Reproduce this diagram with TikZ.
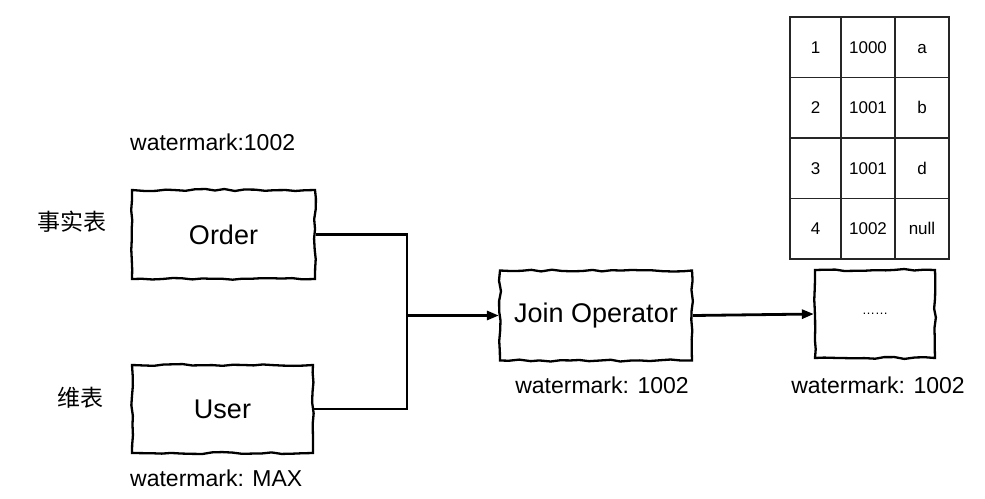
\documentclass[tikz,border=0pt]{standalone}
\usepackage{fontspec}
\setmainfont{Liberation Sans}
\newfontfamily\cjk{Noto Sans CJK SC}
\usetikzlibrary{decorations.pathmorphing,arrows.meta}
\begin{document}
\begin{tikzpicture}[x=1pt,y=-1pt,
  sketch/.style={draw, line width=2.3pt, fill=white, decorate,
    decoration={random steps, segment length=10pt, amplitude=1pt},
    font=\fontsize{27}{27}\selectfont, inner sep=0pt},
  lbl/.style={font=\fontsize{23}{23}\selectfont, inner sep=0pt},
  cjklbl/.style={font=\cjk\fontsize{23}{23}\selectfont, inner sep=0pt},
  cell/.style={draw=black!85, line width=1.1pt, minimum height=60.5pt, inner sep=0pt,
    text height=12pt, text depth=0pt, font=\fontsize{17}{17}\selectfont},
  conn/.style={line width=2.8pt},
  arr/.style={conn, -{Triangle[length=12pt,width=9pt]}}]
\useasboundingbox (0,0) rectangle (985,498);
\pgfmathsetseed{7}
% boxes
\node[sketch, minimum width=183pt, minimum height=89pt] (order) at (223.5,234.5) {Order};
\node[sketch, minimum width=181pt, minimum height=88pt] (user) at (222.5,409) {User};
\node[sketch, minimum width=192pt, minimum height=90pt] (join) at (596,315.5) {Join Operator};
\node[sketch, minimum width=120pt, minimum height=88pt] (dots) at (875,314) {\fontsize{13}{13}\selectfont ……};
% table
\foreach \r/\a/\b [count=\i] in {1/1000/a, 2/1001/b, 3/1001/d, 4/1002/null}{
  \pgfmathsetmacro{\yy}{17+60.5*(\i-0.5)}
  \node[cell, minimum width=51pt] (t\i a) at (815.5,\yy) {\r};
  \node[cell, minimum width=54pt] (t\i b) at (868,\yy) {\a};
  \node[cell, minimum width=54pt] (t\i c) at (922,\yy) {\b};
}
% labels
\node[lbl, anchor=west] (wm1) at (130,142) {watermark:1002};
\node[cjklbl] (fact) at (72,222) {事实表};
\node[cjklbl] (dim) at (80,398) {维表};
\node[lbl] (wm2) at (602,385) {watermark: 1002};
\node[lbl] (wm3) at (878,385) {watermark: 1002};
\node[lbl, anchor=west] (wm4) at (130,478) {watermark: MAX};
% connectors
\coordinate (m) at (407,315.5);
\draw[conn] (order.east) -| (m);
\draw[conn] (user.east) -| (m);
\draw[arr] (m) -- (join.west);
\draw[arr] (join.east) -- (dots.west);
\end{tikzpicture}
\end{document}
